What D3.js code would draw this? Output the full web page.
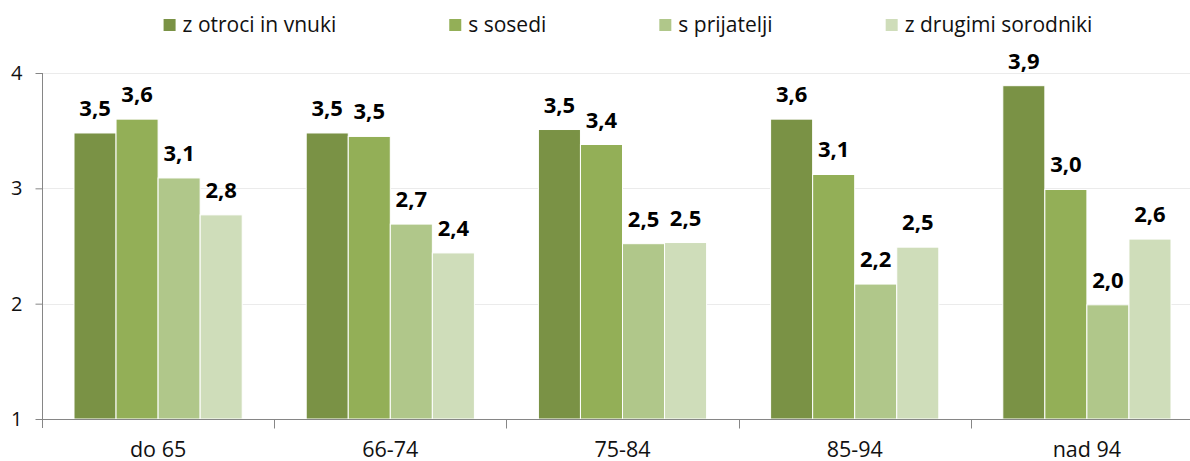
<!DOCTYPE html>
<html>
<head>
<meta charset="utf-8">
<script src="https://cdn.jsdelivr.net/npm/d3@7"></script>
<style>
  body { margin: 0; background: #fff; }
  svg { display: block; font-family: "Open Sans", sans-serif; }
</style>
</head>
<body>
<div id="container"></div>
<script>
/* DATA */
const categories = ["do 65", "66-74", "75-84", "85-94", "nad 94"];
const seriesNames = ["z otroci in vnuki", "s sosedi", "s prijatelji", "z drugimi sorodniki"];
const otrociVnuki = [3.48, 3.48, 3.51, 3.60, 3.89];
const sosedi = [3.60, 3.45, 3.38, 3.12, 2.99];
const prijatelji = [3.09, 2.69, 2.52, 2.17, 1.99];
const sorodniki = [2.77, 2.44, 2.53, 2.49, 2.56];
const yTicks = [1, 2, 3, 4];

const colors = ["#7A9245", "#93AF57", "#B0C78A", "#CFDDBA"];

/* CONSTANTS */
const width = 1190, height = 461;
const margin = { top: 73, left: 42, bottom: 42 };
const plotRight = 1203; // plot area runs just past the picture edge

const series = [otrociVnuki, sosedi, prijatelji, sorodniki];

const svg = d3.select("#container").append("svg")
  .attr("width", width)
  .attr("height", height);

// SCALES
const x0 = d3.scaleBand()
  .domain(categories)
  .range([margin.left, plotRight])
  .paddingInner(0)
  .paddingOuter(0);

const groupPad = 32;
const x1 = d3.scaleBand()
  .domain(d3.range(series.length))
  .range([groupPad, x0.bandwidth() - groupPad]);

const y = d3.scaleLinear()
  .domain([1, 4])
  .range([height - margin.bottom, margin.top]);

// GRIDLINES
svg.append("g")
  .selectAll("line")
  .data(yTicks.filter(d => d > 1))
  .join("line")
  .attr("x1", margin.left)
  .attr("x2", width)
  .attr("y1", d => Math.round(y(d)) + 0.5)
  .attr("y2", d => Math.round(y(d)) + 0.5)
  .attr("stroke", "#EBEBEB");

// BARS
const rows = categories.map((c, i) => ({ cat: c, vals: series.map(s => s[i]) }));

const groups = svg.append("g")
  .selectAll("g.group")
  .data(rows)
  .join("g")
  .attr("class", "group")
  .attr("transform", d => `translate(${x0(d.cat)},0)`);

groups.selectAll("rect")
  .data(d => d.vals.map((v, k) => ({ v, k })))
  .join("rect")
  .attr("x", d => x1(d.k))
  .attr("width", x1.bandwidth())
  .attr("y", d => y(d.v))
  .attr("height", d => y(1) - y(d.v))
  .attr("fill", d => colors[d.k])
  .attr("stroke", "#fff")
  .attr("stroke-width", 1);

// VALUE LABELS
groups.selectAll("text")
  .data(d => d.vals.map((v, k) => ({ v, k })))
  .join("text")
  .attr("x", d => x1(d.k) + x1.bandwidth() / 2)
  .attr("y", d => y(d.v) - 17)
  .attr("text-anchor", "middle")
  .attr("font-size", 22)
  .attr("font-weight", "bold")
  .attr("fill", "#000")
  .text(d => d3.format(".1f")(d.v).replace(".", ","));

// Y AXIS
const yAxis = svg.append("g")
  .attr("transform", `translate(${margin.left + 0.5},0)`)
  .call(d3.axisLeft(y).tickValues(yTicks).tickSize(7).tickPadding(13).tickFormat(d3.format("d")));
yAxis.select(".domain").remove();
yAxis.append("line")
  .attr("y1", y(4)).attr("y2", y(1) + 9)
  .attr("stroke", "#868686");
yAxis.selectAll(".tick line").attr("stroke", "#868686");
yAxis.selectAll(".tick text")
  .attr("font-size", 20)
  .attr("font-family", "Open Sans, sans-serif")
  .attr("fill", "#111");

// X AXIS
const xAxis = svg.append("g")
  .attr("transform", `translate(0,${Math.round(y(1)) + 0.5})`);
xAxis.append("line")
  .attr("x1", margin.left).attr("x2", width)
  .attr("stroke", "#868686");
xAxis.selectAll("line.tick")
  .data(categories.slice(1))
  .join("line")
  .attr("class", "tick")
  .attr("x1", d => Math.round(x0(d)) + 0.5)
  .attr("x2", d => Math.round(x0(d)) + 0.5)
  .attr("y1", 0).attr("y2", 9)
  .attr("stroke", "#868686");
xAxis.selectAll("text")
  .data(categories)
  .join("text")
  .attr("x", d => x0(d) + x0.bandwidth() / 2)
  .attr("y", 37)
  .attr("text-anchor", "middle")
  .attr("font-size", 21.5)
  .attr("fill", "#111")
  .text(d => d);

// LEGEND
const legend = svg.append("g").attr("transform", "translate(0,25)");
const items = legend.selectAll("g")
  .data(seriesNames)
  .join("g");
items.append("rect")
  .attr("y", -6).attr("width", 12).attr("height", 12)
  .attr("fill", (d, i) => colors[i]);
items.append("text")
  .attr("x", 19)
  .attr("dy", "0.35em")
  .attr("font-size", 21)
  .attr("fill", "#111")
  .text(d => d);

const gap = 113;
let cursor = 0;
const offsets = [];
items.each(function () {
  offsets.push(cursor);
  cursor += this.getBBox().width + gap;
});
const total = cursor - gap;
const start = 628 - total / 2;
items.attr("transform", (d, i) => `translate(${start + offsets[i]},0)`);
</script>
</body>
</html>
